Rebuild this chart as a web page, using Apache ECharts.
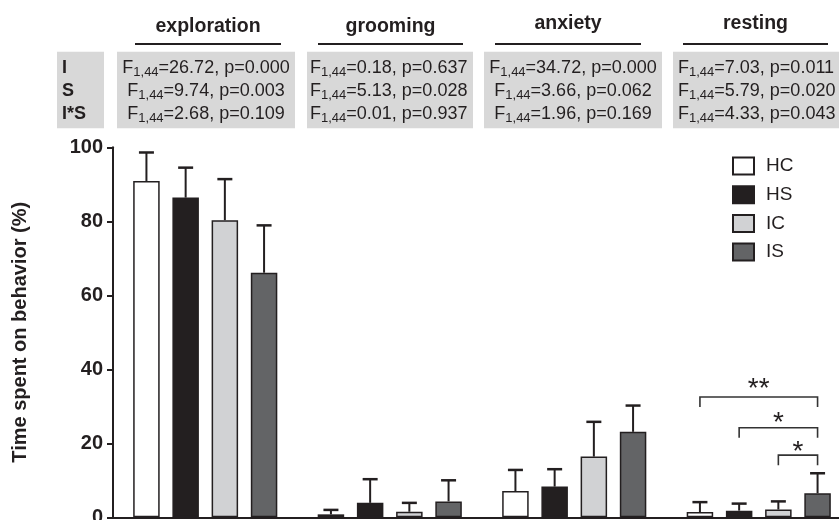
<!DOCTYPE html>
<html><head><meta charset="utf-8">
<script src="https://cdn.jsdelivr.net/npm/echarts@6/dist/echarts.min.js"></script>
<style>html,body{margin:0;padding:0;background:#fff}#c{width:839px;height:520px}</style>
</head><body><div id="c"></div>
<script>
// ---------- data ----------
const behaviors = ['exploration', 'grooming', 'anxiety', 'resting'];
const groups = ['HC', 'HS', 'IC', 'IS'];
const meanHC = [90.9, 0.8, 7.1, 1.4];
const meanHS = [86.4, 3.9, 8.3, 1.8];
const meanIC = [80.3, 1.5, 16.4, 2.1];
const meanIS = [66.1, 4.3, 23.1, 6.5];
const errHC = [7.7, 1.2, 5.7, 2.7];
const errHS = [8.1, 6.4, 4.7, 1.9];
const errIC = [11.1, 2.4, 9.4, 2.2];
const errIS = [12.8, 5.7, 7.1, 5.4];
const yTicks = [0, 20, 40, 60, 80, 100];
const statRows = ['I', 'S', 'I*S'];
const dfLabel = '1,44';
const statF_I = ['26.72', '0.18', '34.72', '7.03'];
const statP_I = ['0.000', '0.637', '0.000', '0.011'];
const statF_S = ['9.74', '5.13', '3.66', '5.79'];
const statP_S = ['0.003', '0.028', '0.062', '0.020'];
const statF_IS = ['2.68', '0.01', '1.96', '4.33'];
const statP_IS = ['0.109', '0.937', '0.169', '0.043'];
// significance brackets (within "resting")
const bracketCat = [3, 3, 3];
const bracketFrom = [0, 1, 2];
const bracketTo = [3, 3, 3];
const bracketY = [32.5, 24.2, 16.8];
const bracketStarY = [36.4, 27.4, 19.4];
const bracketLabel = ['**', '*', '*'];

// ---------- styles ----------
const INK = '#231f20';
const FONT = '"Liberation Sans", Arial, Helvetica, sans-serif';
const fills = ['#ffffff', '#231f20', '#d1d2d4', '#636466'];
const BAR_W = 0.1436, BAR_GAP = 0.48;

const means = [meanHC, meanHS, meanIC, meanIS];
const errs = [errHC, errHS, errIC, errIS];
const statF = [statF_I, statF_S, statF_IS];
const statP = [statP_I, statP_S, statP_IS];

const barSeries = groups.map((g, gi) => ({
  name: g, type: 'bar', data: means[gi],
  barWidth: (BAR_W * 100) + '%', barGap: (BAR_GAP * 100) + '%',
  itemStyle: { color: fills[gi], borderColor: INK, borderWidth: 1.5 },
  z: 2, silent: true
}));

const errData = [];
groups.forEach((g, gi) => behaviors.forEach((b, bi) => {
  errData.push([bi, gi, means[gi][bi], means[gi][bi] + errs[gi][bi]]);
}));

function barX(api, cat, gi) {
  const band = api.size([1, 0])[0];
  const step = band * BAR_W * (1 + BAR_GAP);
  return api.coord([cat, 0])[0] + (gi - 1.5) * step;
}

const errSeries = {
  type: 'custom', data: errData, z: 3, silent: true,
  encode: { x: 0, y: 3 },
  renderItem(params, api) {
    const x = barX(api, api.value(0), api.value(1));
    const y0 = api.coord([api.value(0), api.value(2)])[1];
    const y1 = api.coord([api.value(0), api.value(3)])[1];
    const st = { stroke: INK, lineWidth: 2 };
    return { type: 'group', children: [
      { type: 'line', shape: { x1: x, y1: y0, x2: x, y2: y1 }, style: st },
      { type: 'line', shape: { x1: x - 7.5, y1: y1, x2: x + 7.5, y2: y1 }, style: { stroke: INK, lineWidth: 2.5 } }
    ]};
  }
};

const brData = bracketY.map((y, i) => [bracketCat[i], bracketFrom[i], bracketTo[i], y, bracketStarY[i], i]);
const bracketSeries = {
  type: 'custom', data: brData, z: 4, silent: true,
  encode: { x: 0, y: 3 },
  renderItem(params, api) {
    const c = api.value(0);
    const x1 = barX(api, c, api.value(1));
    const x2 = barX(api, c, api.value(2));
    const y = api.coord([c, api.value(3)])[1];
    const ys = api.coord([c, api.value(4)])[1];
    const drop = 10;
    return { type: 'group', children: [
      { type: 'polyline', shape: { points: [[x1, y + drop], [x1, y], [x2, y], [x2, y + drop]] },
        style: { stroke: '#333', lineWidth: 1.6, fill: null } },
      { type: 'text', style: { text: bracketLabel[api.value(5)], x: (x1 + x2) / 2, y: ys + 7,
        align: 'center', verticalAlign: 'middle', fontSize: 28, fontFamily: FONT, fill: INK } }
    ]};
  }
};

// ---------- header (statistics table) ----------
const headBoxX = [117, 307, 484, 673];
const headBoxW = [178, 166, 178, 190];
const headTextX = [206, 310, 573, 678];
const headAlign = ['center', 'left', 'center', 'left'];
const headTitleX = [208, 390.5, 568, 755.5];
const headTitleY = [26.5, 26.5, 23.5, 23.5];
const underlineX = [[135, 281], [318, 463], [495, 641], [683, 828]];
const BOX_Y = 51.7, BOX_H = 76.6, LINE_TOP = 56.3, LH = 23;

const graphics = [];
graphics.push({ type: 'rect', shape: { x: 57, y: BOX_Y, width: 47, height: BOX_H }, style: { fill: '#d8d8d8' }, silent: true });
graphics.push({ type: 'text', style: {
  text: statRows.join('\n'), x: 62, y: LINE_TOP, align: 'left', verticalAlign: 'top',
  fontSize: 18, fontWeight: 'bold', lineHeight: LH, fontFamily: FONT, fill: INK }, silent: true });
behaviors.forEach((b, i) => {
  graphics.push({ type: 'rect', shape: { x: headBoxX[i], y: BOX_Y, width: headBoxW[i], height: BOX_H }, style: { fill: '#d8d8d8' }, silent: true });
  graphics.push({ type: 'text', style: {
    text: b, x: headTitleX[i], y: headTitleY[i], align: 'center', verticalAlign: 'middle',
    fontSize: 19.5, fontWeight: 'bold', fontFamily: FONT, fill: INK }, silent: true });
  graphics.push({ type: 'line', shape: { x1: underlineX[i][0], y1: 44, x2: underlineX[i][1], y2: 44 },
    style: { stroke: INK, lineWidth: 2 }, silent: true });
  const lines = [0, 1, 2].map(r => `{n|F}{s|${dfLabel}}{n|=${statF[r][i]}, p=${statP[r][i]}}`);
  graphics.push({ type: 'text', style: {
    text: lines.join('\n'), x: headTextX[i], y: LINE_TOP, align: headAlign[i], verticalAlign: 'top',
    fontFamily: FONT, fill: INK,
    rich: {
      n: { fontSize: 18, lineHeight: LH, fontFamily: FONT, fill: INK, verticalAlign: 'middle' },
      s: { fontSize: 13, lineHeight: 8, fontFamily: FONT, fill: INK, verticalAlign: 'bottom' }
    } }, silent: true });
});

const chart = echarts.init(document.getElementById('c'), null, { renderer: 'canvas' });
chart.setOption({
  animation: false,
  backgroundColor: '#ffffff',
  textStyle: { fontFamily: FONT },
  grid: { left: 113, right: -12, top: 147.3, bottom: 2.7, containLabel: false, outerBoundsMode: 'none' },
  legend: {
    data: groups, orient: 'vertical', left: 732, top: 156.5, padding: 0,
    itemWidth: 21, itemHeight: 17, itemGap: 9.7, icon: 'rect',
    itemStyle: { borderWidth: 2, borderColor: INK },
    textStyle: { fontSize: 19, color: INK, fontFamily: FONT, padding: [0, 0, 0, 7] },
    selectedMode: false
  },
  xAxis: {
    type: 'category', data: behaviors,
    axisLine: { lineStyle: { color: INK, width: 2 } },
    axisTick: { show: false }, axisLabel: { show: false }
  },
  yAxis: {
    type: 'value', min: yTicks[0], max: yTicks[yTicks.length - 1], interval: yTicks[1] - yTicks[0],
    name: 'Time spent on behavior (%)', nameLocation: 'middle', nameGap: 83, nameRotate: 90,
    nameTextStyle: { fontSize: 20, fontWeight: 'bold', color: INK, fontFamily: FONT },
    axisLine: { show: true, lineStyle: { color: INK, width: 2 } },
    axisTick: { show: true, length: 6, lineStyle: { color: INK, width: 2 } },
    axisLabel: { fontSize: 20, fontWeight: 'bold', color: INK, margin: 10, fontFamily: FONT },
    splitLine: { show: false }
  },
  graphic: graphics,
  series: [...barSeries, errSeries, bracketSeries]
});
</script></body></html>
